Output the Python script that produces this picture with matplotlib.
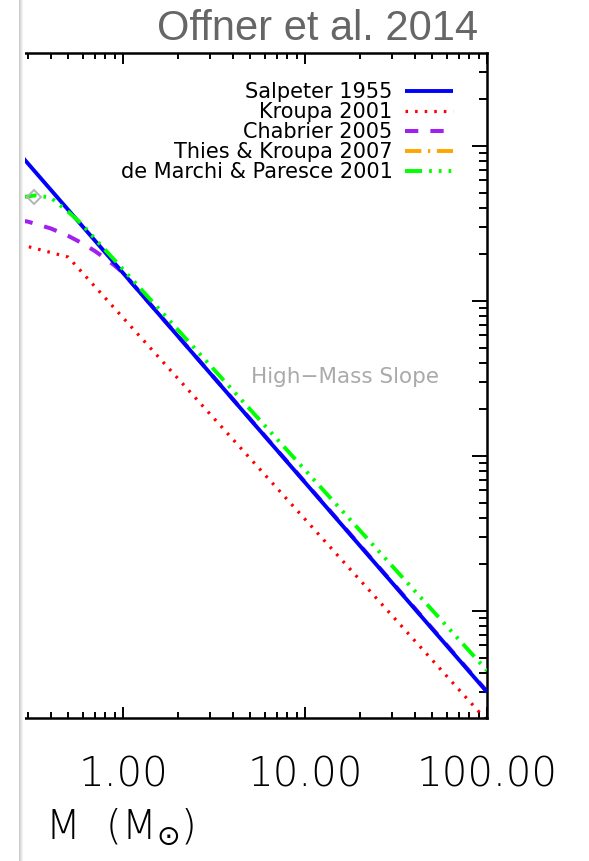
import numpy as np
import matplotlib
matplotlib.use("Agg")
import matplotlib.pyplot as plt

# IMF curves, dN/dlogM (arbitrary normalisation) versus stellar mass M (Msun)
salpeter_m = [0.27, 100.0]
salpeter_y = [0.89, 3.0e-4]

kroupa_m = [0.27, 0.5, 100.0]
kroupa_y = [0.232, 0.192, 1.96e-4]

chabrier_m = [0.27, 0.3, 0.4, 0.5, 0.6, 0.7, 0.8, 0.9, 1.0, 100.0]
chabrier_y = [0.331, 0.325, 0.294, 0.263, 0.235, 0.21, 0.188, 0.169, 0.152, 3.03e-4]

# substellar segment only
thies_m = [0.01, 0.15]
thies_y = [0.02, 0.13]

marchi_m = [0.27, 0.33, 0.4, 0.5, 0.6, 0.7, 0.8, 1.0, 100.0]
marchi_y = [0.465, 0.48, 0.465, 0.376, 0.31, 0.252, 0.213, 0.16, 4.13e-4]

marchi_peak_m = [0.325]
marchi_peak_y = [0.47]

labels = ["Salpeter 1955", "Kroupa 2001", "Chabrier 2005",
          "Thies & Kroupa 2007", "de Marchi & Paresce 2001"]
xtick_vals = [1.0, 10.0, 100.0]
xtick_labels = ["1.00", "10.00", "100.00"]

W, H = 589, 861
fig = plt.figure(figsize=(W / 100, H / 100), dpi=100)
fig.patch.set_facecolor("white")

x0, x1, y0, y1 = 21, 487, 53, 718
ax = fig.add_axes([x0 / W, 1 - y1 / H, (x1 - x0) / W, (y1 - y0) / H])
ax.set_xscale("log")
ax.set_yscale("log")
ax.set_xlim(0.275, 100)
ax.set_ylim(2.04e-4, 3.98)

ax.plot(salpeter_m, salpeter_y, color="#0000ff", lw=2.8, zorder=3,
        solid_capstyle="butt", label=labels[0])
ax.plot(kroupa_m, kroupa_y, color="#ff0000", lw=2.3, zorder=2,
        dashes=(0.8, 2.2), label=labels[1])
ax.plot(chabrier_m, chabrier_y, color="#a020f0", lw=2.9, zorder=2,
        dashes=(3.3, 3.0), label=labels[2])
ax.plot(thies_m, thies_y, color="#ffa500", lw=2.8, zorder=2,
        dashes=(4.2, 1.7, 0.6, 1.7), label=labels[3])
ax.plot(marchi_m, marchi_y, color="#00ff00", lw=2.8, zorder=4,
        dashes=(4.4, 1.8, 0.7, 1.8, 0.7, 1.8, 0.7, 1.8), label=labels[4])
ax.plot(marchi_peak_m, marchi_peak_y, linestyle="none", marker="D",
        markersize=7, markerfacecolor="none", markeredgecolor="#b4b4b4",
        markeredgewidth=1.4, zorder=5)

# frame and ticks
for side in ("top", "right", "bottom"):
    ax.spines[side].set_linewidth(1.8)
ax.spines["left"].set_visible(False)
ax.tick_params(axis="x", which="both", direction="in", top=True, bottom=True,
               width=1.4, colors="black")
ax.tick_params(axis="x", which="major", length=8, pad=27)
ax.tick_params(axis="x", which="minor", length=4)
ax.tick_params(axis="y", which="both", direction="in", left=False, right=True,
               labelleft=False, labelright=False, width=1.4)
ax.tick_params(axis="y", which="major", length=11)
ax.tick_params(axis="y", which="minor", length=5.5)
ax.set_xticks(xtick_vals)
ax.set_xticklabels(xtick_labels, fontsize=29, fontweight=200,
                   family=["DejaVu Sans"])
ax.xaxis.set_minor_formatter(matplotlib.ticker.NullFormatter())

leg = ax.legend(loc="upper right",
                bbox_to_anchor=((453 - x0) / (x1 - x0), (y1 - 82) / (y1 - y0)),
                frameon=False, markerfirst=False, fontsize=15, handlelength=2.3,
                handletextpad=0.6, labelspacing=0.0, borderpad=0, borderaxespad=0)

ax.text((345 - x0) / (x1 - x0), (y1 - 377) / (y1 - y0), "High\u2212Mass Slope",
        transform=ax.transAxes, ha="center", va="center", fontsize=15.5,
        color="#aaaaaa")

fig.text(478 / W, 1 - 40 / H, "Offner et al. 2014", ha="right", va="baseline",
         fontsize=30, color="#666666", family=["Liberation Sans", "DejaVu Sans"])

fig.text(45 / W, 1 - 838 / H, r"M  (M$_{\odot}$)", ha="left", va="baseline",
         fontsize=29, fontweight=200)

# shaded window edge along the left
bar = fig.add_axes([19 / W, 0, 6 / W, 1])
grad = np.array([[0.80, 0.85, 0.90, 0.95, 0.99, 1.0]])
bar.imshow(grad, cmap="gray", vmin=0, vmax=1, aspect="auto", interpolation="bilinear")
bar.set_axis_off()

fig.savefig("out.png", dpi=100)
